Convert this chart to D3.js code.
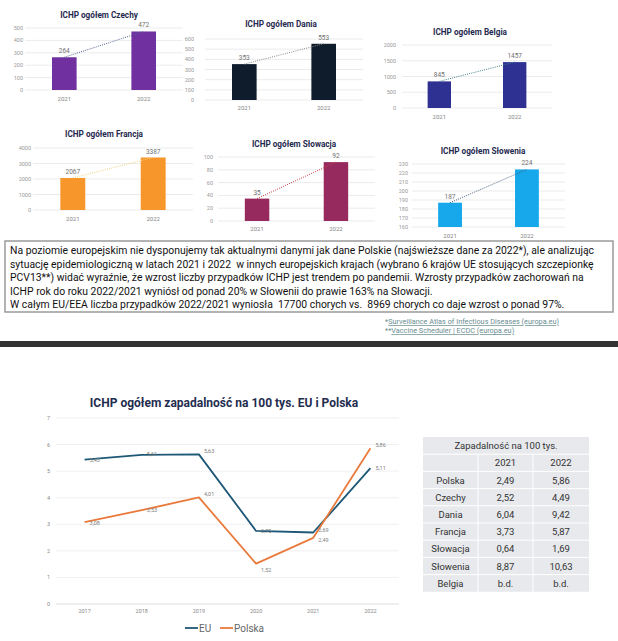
<!DOCTYPE html>
<html>
<head>
<meta charset="utf-8">
<script src="https://cdn.jsdelivr.net/npm/d3@7"></script>
<style>
  body { margin: 0; background: #fff; }
  svg { display: block; font-family: Roboto, "Open Sans", sans-serif; }
  .pre { white-space: pre; }
</style>
</head>
<body>
<svg id="chart" width="618" height="641"></svg>
<script>
// ============================================================
// DATA
// ============================================================
const countries = ['Czechy', 'Dania', 'Belgia', 'Francja', 'Słowacja', 'Słowenia'];
const barYears = ['2021', '2022'];
const cases2021 = [264, 353, 845, 2067, 35, 187];
const cases2022 = [472, 553, 1457, 3387, 92, 224];
const axisMin = [0, 0, 0, 0, 0, 160];
const axisMax = [500, 600, 2000, 4000, 100, 230];
const axisStep = [100, 100, 500, 1000, 20, 10];

const lineYears = ['2017', '2018', '2019', '2020', '2021', '2022'];
const euRate = [5.43, 5.61, 5.63, 2.75, 2.69, 5.11];
const plRate = [3.08, 3.53, 4.01, 1.52, 2.49, 5.86];

const tableHeader = 'Zapadalność na 100 tys.';
const tableCountries = ['Polska', 'Czechy', 'Dania', 'Francja', 'Słowacja', 'Słowenia', 'Belgia'];
const table2021 = ['2,49', '2,52', '6,04', '3,73', '0,64', '8,87', 'b.d.'];
const table2022 = ['5,86', '4,49', '9,42', '5,87', '1,69', '10,63', 'b.d.'];

const paragraph = [
  'Na poziomie europejskim nie dysponujemy tak aktualnymi danymi jak dane Polskie (najświeższe dane za 2022*), ale analizując',
  'sytuację epidemiologiczną w latach 2021 i 2022  w innych europejskich krajach (wybrano 6 krajów UE stosujących szczepionkę',
  'PCV13**) widać wyraźnie, że wzrost liczby przypadków ICHP jest trendem po pandemii. Wzrosty przypadków zachorowań na',
  'ICHP rok do roku 2022/2021 wyniósł od ponad 20% w Słowenii do prawie 163% na Słowacji.',
  'W całym EU/EEA liczba przypadków 2022/2021 wyniosła  17700 chorych vs.  8969 chorych co daje wzrost o ponad 97%.'
];
const footnotes = [
  ['*', 'Surveillance Atlas of Infectious Diseases (europa.eu)'],
  ['**', 'Vaccine Scheduler | ECDC (europa.eu)']
];

// ============================================================
// LAYOUT / STYLE
// ============================================================
const barColors = ['#7030a0', '#0e1c2c', '#2e3192', '#f7962b', '#96295d', '#16a8ea'];
const trendColors = ['#50608c', '#8a8a8a', '#3d7c8a', '#f2d27c', '#c9444c', '#46627e'];
const frames = [
  { x0: 25,  x1: 183, yTop: 28,  yBot: 90,  labX: 23,  titleX: 99,  titleY: 18,  xLabY: 101 },
  { x0: 205, x1: 363, yTop: 39,  yBot: 100, labX: 194, titleX: 281, titleY: 27,  xLabY: 110 },
  { x0: 402, x1: 552, yTop: 45,  yBot: 108, labX: 396, titleX: 470, titleY: 35,  xLabY: 119 },
  { x0: 33,  x1: 193, yTop: 148, yBot: 210, labX: 31,  titleX: 104, titleY: 137, xLabY: 221 },
  { x0: 218, x1: 375, yTop: 157, yBot: 221, labX: 213, titleX: 294, titleY: 147, xLabY: 231 },
  { x0: 412, x1: 565, yTop: 164, yBot: 227, labX: 408, titleX: 483, titleY: 154, xLabY: 238 }
];

const svg = d3.select('#chart');
svg.append('rect').attr('width', 618).attr('height', 641).attr('fill', '#fff');

// ============================================================
// SMALL BAR CHARTS
// ============================================================
countries.forEach(function(name, i) {
  const f = frames[i];
  const g = svg.append('g');
  const vals = [cases2021[i], cases2022[i]];
  const x = d3.scaleBand().domain(barYears).range([f.x0, f.x1]).paddingInner(0.69).paddingOuter(0.34);
  const y = d3.scaleLinear().domain([axisMin[i], axisMax[i]]).range([f.yBot, f.yTop]);
  const ticks = d3.range(axisMin[i], axisMax[i] + axisStep[i] / 2, axisStep[i]);

  g.selectAll('.grid').data(ticks).join('line')
    .attr('x1', f.x0).attr('x2', f.x1)
    .attr('y1', d => y(d)).attr('y2', d => y(d))
    .attr('stroke', '#e3e3e3').attr('stroke-width', 0.7);
  g.selectAll('.tick').data(ticks).join('text')
    .attr('x', f.labX).attr('y', d => y(d) + 2)
    .attr('text-anchor', 'end').attr('font-size', 5.5).attr('fill', '#999')
    .text(d => d);

  g.selectAll('.bar').data(vals).join('rect')
    .attr('x', (d, k) => x(barYears[k])).attr('width', x.bandwidth())
    .attr('y', d => y(d)).attr('height', d => y(axisMin[i]) - y(d))
    .attr('fill', barColors[i]);

  g.append('line')
    .attr('x1', x(barYears[0]) + x.bandwidth() / 2).attr('y1', y(vals[0]))
    .attr('x2', x(barYears[1]) + x.bandwidth() / 2).attr('y2', y(vals[1]))
    .attr('stroke', trendColors[i]).attr('stroke-width', 1).attr('stroke-dasharray', '1,1.2');

  g.selectAll('.val').data(vals).join('text')
    .attr('x', (d, k) => x(barYears[k]) + x.bandwidth() / 2).attr('y', d => y(d) - 4)
    .attr('text-anchor', 'middle').attr('font-size', 6.5).attr('fill', '#707070')
    .text(d => d);

  g.selectAll('.xl').data(barYears).join('text')
    .attr('x', d => x(d) + x.bandwidth() / 2).attr('y', f.xLabY)
    .attr('text-anchor', 'middle').attr('font-size', 6).attr('fill', '#888')
    .text(d => d);

  g.append('text')
    .attr('x', f.titleX).attr('y', f.titleY)
    .attr('text-anchor', 'middle').attr('font-size', 8.2).attr('font-weight', 'bold')
    .attr('fill', '#1f2a4f').text('ICHP ogółem ' + name);
});

// ============================================================
// TEXT BOX + FOOTNOTES
// ============================================================
svg.append('rect').attr('x', 5).attr('y', 241).attr('width', 608).attr('height', 71)
  .attr('fill', '#fff').attr('stroke', '#9a9a9a').attr('stroke-width', 1.5);
svg.selectAll('.para').data(paragraph).join('text')
  .attr('class', 'pre')
  .attr('x', 10).attr('y', (d, k) => 254 + k * 13.5)
  .attr('font-size', 10.4).attr('fill', '#111')
  .text(d => d);

const fn = svg.selectAll('.fn').data(footnotes).join('text')
  .attr('x', 385).attr('y', (d, k) => 324 + k * 9)
  .attr('font-size', 7.3).attr('fill', '#6a8e92');
fn.append('tspan').text(d => d[0]);
fn.append('tspan').attr('text-decoration', 'underline').text(d => d[1]);

svg.append('rect').attr('x', 0).attr('y', 341).attr('width', 618).attr('height', 6).attr('fill', '#333');

// ============================================================
// LINE CHART
// ============================================================
const lx = d3.scaleBand().domain(lineYears).range([56, 399]);
const ly = d3.scaleLinear().domain([0, 7]).range([604, 418]);
const lg = svg.append('g');

lg.append('text').attr('x', 224).attr('y', 407).attr('text-anchor', 'middle')
  .attr('font-size', 12).attr('font-weight', 'bold').attr('fill', '#1f2d4f')
  .text('ICHP ogółem zapadalność na 100 tys. EU i Polska');

lg.selectAll('.grid').data(ly.ticks(7)).join('line')
  .attr('x1', 56).attr('x2', 399)
  .attr('y1', d => ly(d)).attr('y2', d => ly(d))
  .attr('stroke', d => d === 0 ? '#d6d6d6' : '#ececec').attr('stroke-width', 0.8);
lg.selectAll('.yt').data(ly.ticks(7)).join('text')
  .attr('x', 50).attr('y', d => ly(d) + 2)
  .attr('text-anchor', 'end').attr('font-size', 5.5).attr('fill', '#8a8a8a')
  .text(d => d);
lg.selectAll('.xt').data(lineYears).join('text')
  .attr('x', d => lx(d) + lx.bandwidth() / 2).attr('y', 613)
  .attr('text-anchor', 'middle').attr('font-size', 5.5).attr('fill', '#8a8a8a')
  .text(d => d);

const series = [
  { name: 'EU', vals: euRate, color: '#1d5876' },
  { name: 'Polska', vals: plRate, color: '#ea7a3c' }
];
const line = d3.line().x((d, k) => lx(lineYears[k]) + lx.bandwidth() / 2).y(d => ly(d));
series.forEach(function(s) {
  lg.append('path').attr('d', line(s.vals)).attr('fill', 'none')
    .attr('stroke', s.color).attr('stroke-width', 1.8).attr('stroke-linejoin', 'round');
});
const fmt = d => d.toFixed(2).replace('.', ',');
const labelDy = { EU: [2, 1, -1, 2, -1, 2], Polska: [3, 2, -1, 8, 4, -1] };
series.forEach(function(s) {
  lg.selectAll('.lab-' + s.name).data(s.vals).join('text')
    .attr('x', (d, k) => lx(lineYears[k]) + lx.bandwidth() / 2 + 5)
    .attr('y', (d, k) => ly(d) + labelDy[s.name][k])
    .attr('font-size', 5.5).attr('fill', '#808080')
    .text(fmt);
});

// legend
const legend = lg.append('g');
[{ x: 185, s: series[0] }, { x: 220, s: series[1] }].forEach(function(l) {
  legend.append('line').attr('x1', l.x).attr('x2', l.x + 13).attr('y1', 628).attr('y2', 628)
    .attr('stroke', l.s.color).attr('stroke-width', 1.8);
  legend.append('text').attr('x', l.x + 14).attr('y', 632)
    .attr('font-size', 10).attr('fill', '#666').text(l.s.name);
});

// ============================================================
// TABLE
// ============================================================
const tx0 = 423, tx1 = 589, ty0 = 437, rowH = 17.2;
const colX = [423, 478, 533, 589];
const tg = svg.append('g');
const nRows = tableCountries.length + 2;
tg.append('rect').attr('x', tx0).attr('y', ty0).attr('width', tx1 - tx0).attr('height', rowH * nRows)
  .attr('fill', '#e7e9ec');
d3.range(1, nRows).forEach(function(r) {
  tg.append('line').attr('x1', tx0).attr('x2', tx1)
    .attr('y1', ty0 + r * rowH).attr('y2', ty0 + r * rowH)
    .attr('stroke', '#fff').attr('stroke-width', 1);
});
[colX[1], colX[2]].forEach(function(cx) {
  tg.append('line').attr('x1', cx).attr('x2', cx)
    .attr('y1', ty0 + rowH).attr('y2', ty0 + rowH * nRows)
    .attr('stroke', '#fff').attr('stroke-width', 1);
});
const cellText = (txt, c, r, span) => {
  const cx = span ? (tx0 + tx1) / 2 : (colX[c] + colX[c + 1]) / 2;
  tg.append('text').attr('x', cx).attr('y', ty0 + r * rowH + rowH / 2 + 3.5)
    .attr('text-anchor', 'middle').attr('font-size', 9.5).attr('fill', '#333').text(txt);
};
cellText(tableHeader, 0, 0, true);
cellText(barYears[0], 1, 1);
cellText(barYears[1], 2, 1);
tableCountries.forEach(function(c, k) {
  cellText(c, 0, k + 2);
  cellText(table2021[k], 1, k + 2);
  cellText(table2022[k], 2, k + 2);
});
</script>
</body>
</html>
